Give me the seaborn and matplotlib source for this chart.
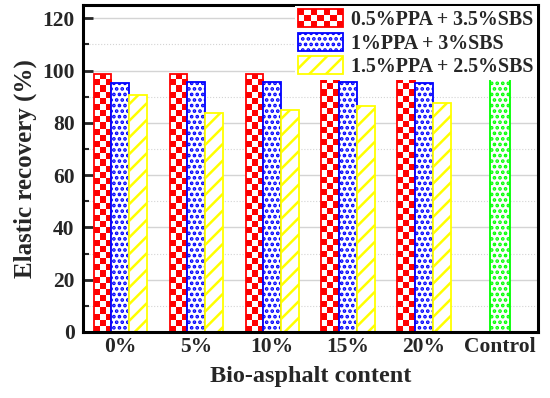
import numpy as np
import pandas as pd
import matplotlib
matplotlib.use("Agg")
import matplotlib.pyplot as plt
import seaborn as sns
from matplotlib.ticker import MultipleLocator
from matplotlib.colors import ListedColormap
from matplotlib.patches import Rectangle
from matplotlib.legend_handler import HandlerBase

# data
contents = ["0%", "5%", "10%", "15%", "20%"]
control_label = "Control"
mixes = ["0.5%PPA + 3.5%SBS", "1%PPA + 3%SBS", "1.5%PPA + 2.5%SBS"]
ppa05_sbs35 = [98.8, 98.8, 98.8, 97.2, 97.2]
ppa1_sbs3 = [95.2, 95.5, 95.8, 95.5, 95.2]
ppa15_sbs25 = [90.6, 83.9, 84.8, 86.5, 87.7]
control_value = [97.9]

order = contents + [control_label]

df = pd.DataFrame({
    "content": contents * 3,
    "mix": np.repeat(mixes, len(contents)),
    "value": ppa05_sbs35 + ppa1_sbs3 + ppa15_sbs25,
})
df_control = pd.DataFrame({"content": [control_label], "value": control_value})

sns.set_style("white")
plt.rcParams["font.family"] = ["Liberation Serif", "DejaVu Serif"]
plt.rcParams["font.weight"] = "bold"
plt.rcParams["axes.labelweight"] = "bold"
plt.rcParams["hatch.linewidth"] = 1.8

RED, BLUE, YELLOW, GREEN = "#ff0000", "#0000ff", "#ffff00", "#00ff00"


class CheckerHandler(HandlerBase):
    # red/white checkerboard legend key
    def create_artists(self, legend, orig_handle, xdescent, ydescent,
                       width, height, fontsize, trans):
        arts = []
        ncol, nrow = 7, 3
        cw, ch = width / ncol, height / nrow
        for i in range(nrow):
            for j in range(ncol):
                if (i + j) % 2 == 0:
                    arts.append(Rectangle((-xdescent + j * cw, -ydescent + i * ch),
                                          cw, ch, facecolor=RED, edgecolor="none",
                                          transform=trans))
        arts.append(Rectangle((-xdescent, -ydescent), width, height,
                              facecolor="none", edgecolor=RED, lw=1.3,
                              transform=trans))
        return arts


fig = plt.figure(figsize=(5.5, 3.98), dpi=100)
ax = fig.add_axes([0.151, 0.166, 0.827, 0.821])

sns.barplot(data=df, x="content", y="value", hue="mix", order=order,
            hue_order=mixes, width=0.7, errorbar=None, legend=False, ax=ax)
sns.barplot(data=df_control, x="content", y="value", order=order,
            width=0.26, errorbar=None, ax=ax)

# red series: checkerboard fill clipped to each bar
checker_cmap = ListedColormap([RED, "white"])
for p in ax.containers[0]:
    x0, y0, w, h = p.get_x(), p.get_y(), p.get_width(), p.get_height()
    nrows = int(round(h / 2.35))
    board = np.indices((nrows, 3)).sum(axis=0) % 2
    im = ax.imshow(board, cmap=checker_cmap, extent=(x0, x0 + w, y0, y0 + h),
                   origin="lower", aspect="auto", interpolation="nearest",
                   zorder=p.get_zorder() - 0.01)
    im.set_clip_path(p)
    p.set_facecolor("none")
    p.set_edgecolor(RED)
    p.set_linewidth(1.3)

for cont, ec, h in [(ax.containers[1], BLUE, "..."), (ax.containers[2], YELLOW, "//"),
                    (ax.containers[3], GREEN, "...")]:
    for p in cont:
        p.set_facecolor("white")
        p.set_edgecolor(ec)
        p.set_hatch(h)
        p.set_linewidth(1.3)

ax.set_xlim(-0.49, 5.5)
ax.set_ylim(0, 125)
ax.yaxis.set_major_locator(MultipleLocator(20))
ax.yaxis.set_minor_locator(MultipleLocator(10))
ax.set_axisbelow(True)
ax.yaxis.grid(True, which="major", color="#d4d4d4", lw=1.0)
ax.yaxis.grid(True, which="minor", color="#d4d4d4", lw=0.8, linestyle=":")

ax.tick_params(axis="y", which="major", direction="in", length=7, width=2,
               labelsize=15.5, left=True, pad=6)
ax.tick_params(axis="y", which="minor", direction="in", length=4, width=1.5,
               left=True)
ax.tick_params(axis="x", length=0, labelsize=15.5, pad=4)
for lab in ax.get_xticklabels() + ax.get_yticklabels():
    lab.set_fontweight("bold")

for s in ax.spines.values():
    s.set_visible(True)
    s.set_linewidth(2.2)
    s.set_color("black")

ax.set_xlabel("Bio-asphalt content", fontsize=17.5, fontweight="bold", labelpad=6)
ax.set_ylabel("Elastic recovery (%)", fontsize=18, fontweight="bold", labelpad=4)

leg = ax.legend(handles=ax.containers[:3], labels=mixes, loc="upper right",
                handler_map={ax.containers[0]: CheckerHandler()},
                frameon=True, fancybox=False, edgecolor="none", framealpha=1,
                prop={"size": 14.3, "weight": "bold"}, handlelength=2.3,
                handleheight=1.0, handletextpad=0.4, labelspacing=0.15,
                borderaxespad=0.05, borderpad=0.15)

fig.savefig("out.png", dpi=100)
